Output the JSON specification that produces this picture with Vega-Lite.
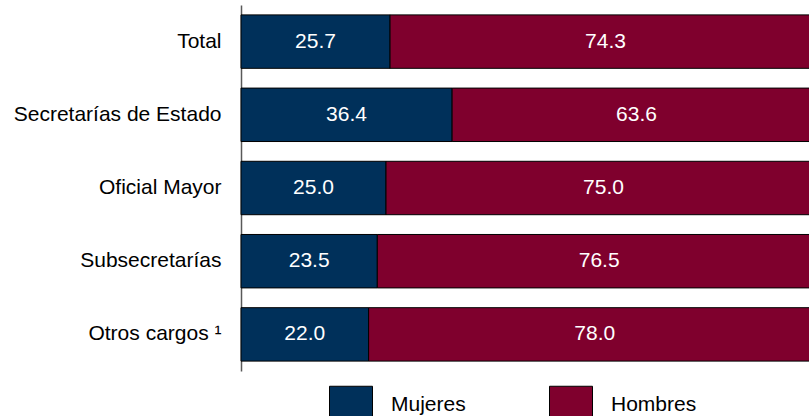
{
  "$schema": "https://vega.github.io/schema/vega-lite/v6.json",
  "width": 580,
  "height": 366,
  "autosize": "none",
  "padding": {"left": 241, "top": 5, "right": 0, "bottom": 45},
  "config": {
    "view": {"stroke": null},
    "font": "Liberation Sans"
  },
  "data": {
    "values": [
      {"cargo": "Total", "sexo": "Mujeres", "valor": 25.7},
      {"cargo": "Total", "sexo": "Hombres", "valor": 74.3},
      {"cargo": "Secretarías de Estado", "sexo": "Mujeres", "valor": 36.4},
      {"cargo": "Secretarías de Estado", "sexo": "Hombres", "valor": 63.6},
      {"cargo": "Oficial Mayor", "sexo": "Mujeres", "valor": 25.0},
      {"cargo": "Oficial Mayor", "sexo": "Hombres", "valor": 75.0},
      {"cargo": "Subsecretarías", "sexo": "Mujeres", "valor": 23.5},
      {"cargo": "Subsecretarías", "sexo": "Hombres", "valor": 76.5},
      {"cargo": "Otros cargos ¹", "sexo": "Mujeres", "valor": 22.0},
      {"cargo": "Otros cargos ¹", "sexo": "Hombres", "valor": 78.0}
    ]
  },
  "transform": [
    {"stack": "valor", "groupby": ["cargo"], "as": ["v0", "v1"], "sort": [{"field": "sexo", "order": "descending"}]},
    {"calculate": "(datum.v0 + datum.v1) / 2", "as": "mid"}
  ],
  "encoding": {
    "y": {
      "field": "cargo",
      "type": "nominal",
      "sort": ["Total", "Secretarías de Estado", "Oficial Mayor", "Subsecretarías", "Otros cargos ¹"],
      "scale": {"paddingInner": 0.27, "paddingOuter": 0.135},
      "axis": {
        "title": null,
        "ticks": false,
        "labelFontSize": 21,
        "labelColor": "#000000",
        "labelPadding": 20,
        "labelLimit": 300,
        "domainColor": "#595959",
        "domainWidth": 1.5
      }
    }
  },
  "layer": [
    {
      "mark": {"type": "bar", "stroke": "#000000", "strokeWidth": 1},
      "encoding": {
        "x": {"field": "v0", "type": "quantitative", "scale": {"domain": [0, 100]}, "axis": null},
        "x2": {"field": "v1"},
        "color": {
          "field": "sexo",
          "type": "nominal",
          "scale": {"domain": ["Mujeres", "Hombres"], "range": ["#00305A", "#7F002D"]},
          "legend": {
            "title": null,
            "orient": "none",
            "direction": "horizontal",
            "legendX": 88,
            "legendY": 377.5,
            "padding": 0,
            "symbolType": "M-1,-0.86H1V1.14H-1Z",
            "symbolSize": 1849,
            "symbolStrokeColor": "#000000",
            "symbolStrokeWidth": 1,
            "symbolOpacity": 1,
            "labelFontSize": 21,
            "labelColor": "#000000",
            "labelOffset": 18,
            "columnPadding": 81
          }
        }
      }
    },
    {
      "mark": {"type": "text", "color": "#ffffff", "fontSize": 21},
      "encoding": {
        "x": {"field": "mid", "type": "quantitative"},
        "text": {"field": "valor", "type": "quantitative", "format": ".1f"}
      }
    }
  ]
}
